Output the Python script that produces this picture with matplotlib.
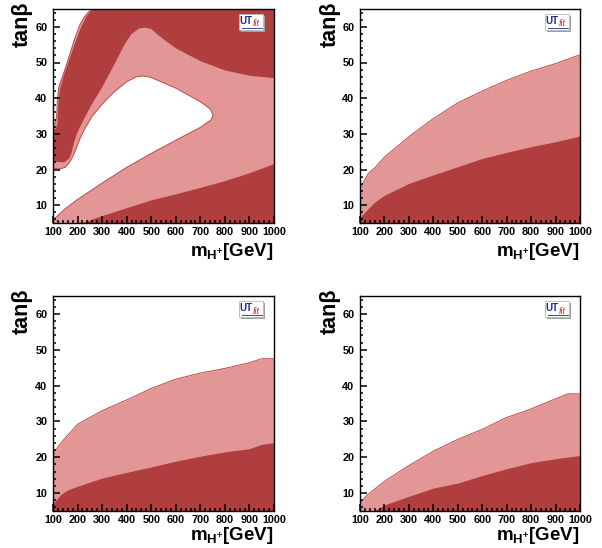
import numpy as np
import matplotlib
matplotlib.use("Agg")
import matplotlib.pyplot as plt
from matplotlib.patches import Rectangle
from matplotlib.ticker import MultipleLocator

plt.rcParams["font.family"] = ["Liberation Sans", "DejaVu Sans"]
plt.rcParams["font.weight"] = "bold"
plt.rcParams["mathtext.fontset"] = "custom"
plt.rcParams["mathtext.rm"] = "Liberation Sans:bold"
plt.rcParams["mathtext.it"] = "Liberation Sans:bold:italic"
plt.rcParams["mathtext.bf"] = "Liberation Sans:bold"

DARK = "#B03E3E"
LIGHT = "#E39696"
EDGE = "#C04747"

# ---- panel 1 (top left): closed contours --------------------------------
p1_outer_x = [100, 110, 115, 118, 125, 141, 160, 175, 190, 209, 225, 245, 262]
p1_outer_y = [32.4, 33.2, 35, 40, 43.5, 46.5, 50.5, 53.8, 57, 60.5, 62.5, 64.2, 65]
p1_dark_outer_x = [100, 112, 118, 121, 128, 145, 165, 180, 195, 215, 235, 255, 272]
p1_dark_outer_y = [31, 31.5, 33, 38, 42.5, 46.5, 50.5, 53.5, 56.5, 60, 62.8, 64.5, 65]
p1_dark_inner_x = [100, 145, 165, 175, 185, 200, 225, 260, 300, 350, 391, 420, 450,
                   475, 500, 530, 560, 600, 700, 800, 900, 1000]
p1_dark_inner_y = [22.2, 22, 23, 24.5, 27.5, 30.5, 34, 38.5, 43, 49.5, 55, 58, 59.5,
                   59.8, 59.4, 57.6, 56, 54, 50.4, 47.8, 46.3, 45.6]
p1_hole_top_x = [100, 130, 150, 165, 180, 195, 210, 230, 260, 300, 350, 400, 440,
                 470, 500, 600, 700, 740, 752]
p1_hole_top_y = [20.3, 20.2, 20.6, 21.8, 23.5, 26, 28.7, 31.5, 35, 38.3, 41.8, 44.6,
                 46, 46.2, 45.8, 42.8, 39, 37, 35.3]
p1_hole_bot_x = [745, 700, 600, 500, 400, 300, 200, 150, 110, 100]
p1_hole_bot_y = [34, 31.8, 28.2, 24.5, 20.6, 16.2, 11.6, 9, 6.5, 5.8]
p1_wedge_x = [214, 300, 400, 500, 600, 700, 800, 900, 1000]
p1_wedge_y = [5, 7.1, 9.3, 11.5, 13.2, 15, 16.9, 19.1, 21.7]

# ---- panels 2-4: upper limits ------------------------------------------
p2_light_x = [100, 107, 134, 161, 200, 300, 400, 500, 600, 700, 800, 900, 1000]
p2_light_y = [13.6, 15.6, 18.9, 20.5, 23.5, 29.2, 34.3, 38.7, 42, 45, 47.6, 49.7, 52.2]
p2_dark_x = [100, 134, 161, 200, 300, 400, 500, 600, 700, 800, 900, 1000]
p2_dark_y = [6.5, 9.1, 10.9, 12.8, 16.1, 18.5, 20.8, 23.1, 24.8, 26.4, 27.8, 29.4]

p3_light_x = [100, 110, 145, 200, 300, 400, 500, 600, 700, 800, 900, 950, 1000]
p3_light_y = [19.8, 22, 25, 29.2, 33, 36, 39.2, 41.8, 43.5, 44.8, 46.4, 47.5, 47.5]
p3_dark_x = [100, 131, 160, 200, 300, 400, 500, 600, 700, 800, 900, 950, 1000]
p3_dark_y = [7, 9.6, 10.9, 11.9, 14.2, 15.8, 17.3, 18.9, 20.3, 21.5, 22.4, 23.6, 24.1]

p4_light_x = [100, 105, 130, 165, 200, 300, 400, 500, 600, 700, 800, 900, 950, 1000]
p4_light_y = [6.3, 7.6, 9.5, 11.4, 13.3, 17.7, 21.7, 25, 27.8, 31.1, 33.5, 36.3, 37.7, 37.7]
p4_dark_x = [155, 200, 300, 400, 500, 600, 700, 800, 900, 1000]
p4_dark_y = [5, 6.7, 9.1, 11.4, 12.8, 14.9, 16.8, 18.5, 19.6, 20.5]
p4_speck_x = [103, 105, 103]
p4_speck_y = [28, 26.7, 25.2]

XMIN, XMAX, YMIN, YMAX = 100, 1000, 5, 65

fig = plt.figure(figsize=(6.02, 5.48), dpi=100)
W, H = 602, 548
boxes = [(53, 9, 274, 223), (360, 9, 580, 223), (53, 296, 274, 511), (360, 296, 580, 511)]
axes = [fig.add_axes([l / W, 1 - b / H, (r - l) / W, (b - t) / H]) for l, t, r, b in boxes]
label_drop = [-0.152, -0.152, -0.135, -0.135]


def style(ax, drop):
    ax.set_axisbelow(False)
    ax.set_xlim(XMIN, XMAX)
    ax.set_ylim(YMIN, YMAX)
    ax.xaxis.set_major_locator(MultipleLocator(100))
    ax.xaxis.set_minor_locator(MultipleLocator(20))
    ax.yaxis.set_major_locator(MultipleLocator(10))
    ax.yaxis.set_minor_locator(MultipleLocator(2))
    ax.tick_params(which="both", direction="in", top=False, right=False,
                   labelsize=7.8, width=1.1, color="black")
    ax.tick_params(which="major", length=4.8)
    ax.tick_params(which="minor", length=2.5)
    ax.tick_params(axis="x", pad=3)
    ax.tick_params(axis="y", pad=4)
    for lab in ax.get_xticklabels() + ax.get_yticklabels():
        lab.set_fontweight("bold")
    for s in ax.spines.values():
        s.set_linewidth(1.0)
        s.set_zorder(5)
    ax.text(-0.137, 1.035, "tan\u03b2", transform=ax.transAxes, rotation=90,
            ha="center", va="top", fontsize=15.5, fontweight="bold")
    ax.text(1.0, drop, r"m$_{\mathrm{H^{+}}}$[GeV]", transform=ax.transAxes,
            ha="right", va="baseline", fontsize=13.5, fontweight="bold")
    # UTfit logo
    ax.add_patch(Rectangle((0.852, 0.893), 0.108, 0.074, transform=ax.transAxes,
                           facecolor="#a0a0a0", edgecolor="none", zorder=6))
    ax.add_patch(Rectangle((0.842, 0.903), 0.108, 0.074, transform=ax.transAxes,
                           facecolor="white", edgecolor="#b8b8b8", lw=0.6, zorder=7))
    ax.text(0.873, 0.943, "UT", transform=ax.transAxes, color="#1c2a8c", fontsize=7,
            fontweight="bold", ha="center", va="center", zorder=8)
    ax.text(0.92, 0.93, "fit", transform=ax.transAxes, color="#d42020", fontsize=6.5,
            fontstyle="italic", fontweight="normal", ha="center", va="center", zorder=8)
    ax.plot([0.855, 0.945], [0.913, 0.913], transform=ax.transAxes, color="#1c2a8c",
            lw=0.6, zorder=8)


# panel 1
ax = axes[0]
ax.set_facecolor(LIGHT)
ax.fill([XMIN] + p1_outer_x, [YMAX] + p1_outer_y, color="white", lw=0, zorder=0.5)
ax.plot(p1_outer_x, p1_outer_y, color=EDGE, lw=0.7, zorder=0.6)
hx = p1_hole_top_x + p1_hole_bot_x
hy = p1_hole_top_y + p1_hole_bot_y
ax.fill(hx, hy, color="white", lw=0, zorder=0.5)
ax.plot(hx, hy, color=EDGE, lw=0.7, zorder=0.6)
bx = p1_dark_outer_x + [XMAX] + p1_dark_inner_x[::-1]
by = p1_dark_outer_y + [YMAX] + p1_dark_inner_y[::-1]
ax.fill(bx, by, color=DARK, lw=0, zorder=1)
ax.fill_between(p1_wedge_x, YMIN, p1_wedge_y, color=DARK, lw=0, zorder=1)
style(ax, label_drop[0])

# panels 2-4
for ax, drop, lx, ly, dx, dy in [
    (axes[1], label_drop[1], p2_light_x, p2_light_y, p2_dark_x, p2_dark_y),
    (axes[2], label_drop[2], p3_light_x, p3_light_y, p3_dark_x, p3_dark_y),
    (axes[3], label_drop[3], p4_light_x, p4_light_y, p4_dark_x, p4_dark_y),
]:
    ax.fill_between(lx, YMIN, ly, color=LIGHT, lw=0, zorder=0.5)
    ax.plot(lx, ly, color=EDGE, lw=0.7, zorder=0.6)
    ax.fill_between(dx, YMIN, dy, color=DARK, lw=0, zorder=1)
    style(ax, drop)

axes[3].plot(p4_speck_x, p4_speck_y, color=EDGE, lw=0.7, ls=(0, (1.5, 1.5)), zorder=0.6)

fig.savefig("out.png", dpi=100)
